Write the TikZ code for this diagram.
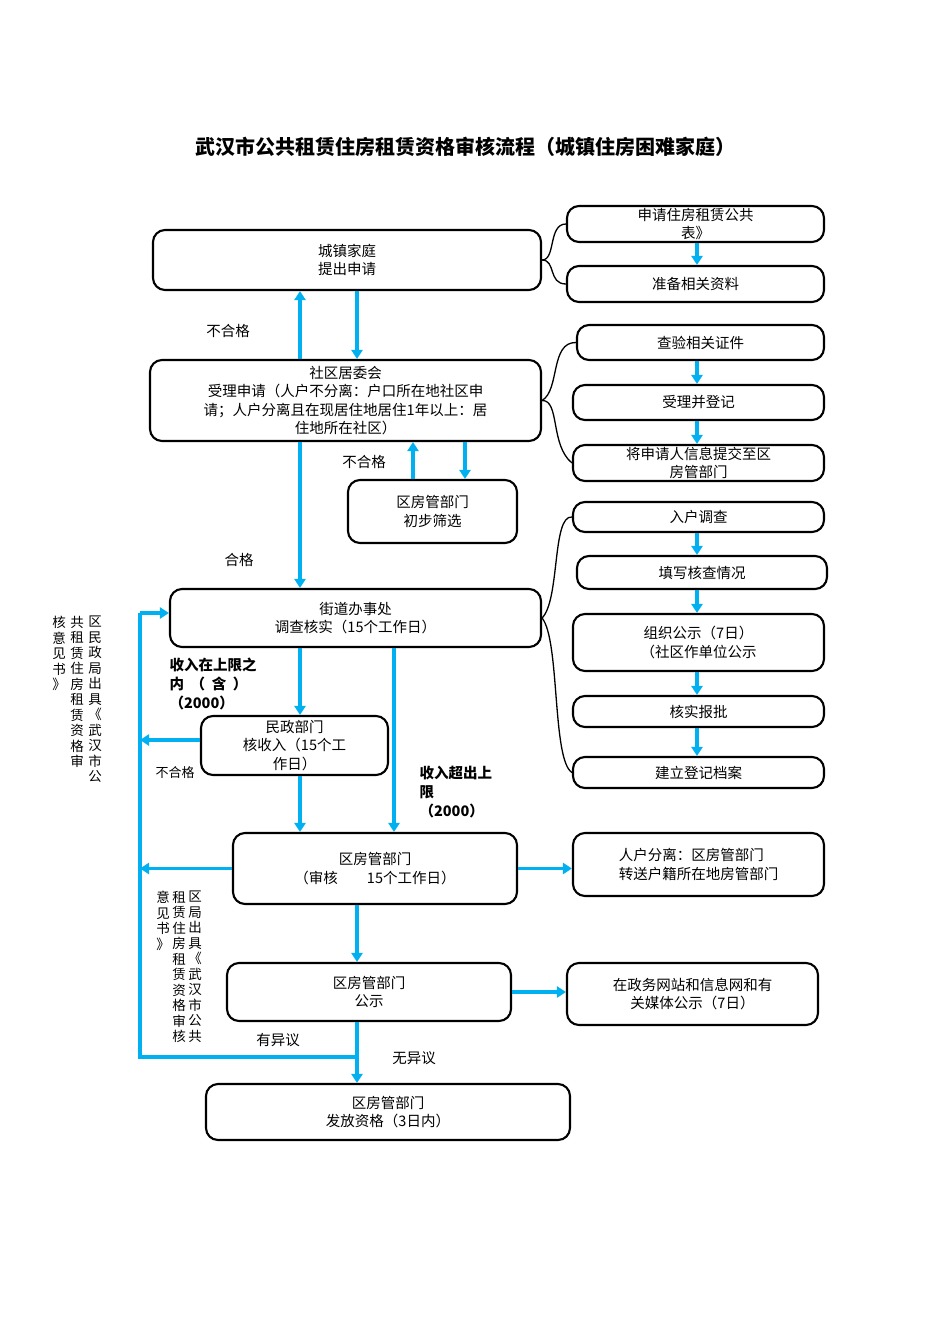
\documentclass[tikz,border=0pt]{standalone}
\usepackage{fontspec}
\setmainfont{Noto Sans CJK SC}
\usetikzlibrary{arrows.meta}
\begin{document}
\begin{tikzpicture}[x=1pt,y=-1pt,
 box/.style={draw,line width=2.1pt,rounded corners=12pt,align=center,inner sep=2pt,font=\fontsize{14.5}{18.5}\selectfont},
 arr/.style={draw={rgb,255:red,0;green,176;blue,240},line width=3.2pt,-{Triangle[length=9pt,width=11pt]}},
 ln/.style={draw={rgb,255:red,0;green,176;blue,240},line width=3.2pt},
 br/.style={draw,line width=1.3pt},
 lab/.style={font=\fontsize{14.5}{18.5}\selectfont},
 bl/.style={font=\bfseries\fontsize{14.5}{19}\selectfont,align=left},
 vt/.style={font=\fontsize{13.5}{15.5}\selectfont,align=center,anchor=north,inner sep=0pt}]
\useasboundingbox (0,0) rectangle (950,1344);
\node[font=\bfseries\fontsize{20}{24}\selectfont] (T) at (465,147) {武汉市公共租赁住房租赁资格审核流程（城镇住房困难家庭）};
\node[box,minimum width=388,minimum height=60] (A) at (347,260) {城镇家庭\\提出申请};
\node[box,minimum width=257,minimum height=36] (R1) at (695.5,224) {申请住房租赁公共\\表》};
\node[box,minimum width=257,minimum height=36] (R2) at (695.5,284) {准备相关资料};
\node[box,minimum width=391,minimum height=81] (B) at (345.5,400.5) {社区居委会\\受理申请（人户不分离：户口所在地社区申\\请；人户分离且在现居住地居住1年以上：居\\住地所在社区）};
\node[box,minimum width=247,minimum height=35] (R3) at (700.5,342.5) {查验相关证件};
\node[box,minimum width=251,minimum height=35] (R4) at (698.5,402.5) {受理并登记};
\node[box,minimum width=251,minimum height=36] (R5) at (698.5,463) {将申请人信息提交至区\\房管部门};
\node[box,minimum width=169,minimum height=63] (C) at (432.5,511.5) {区房管部门\\初步筛选};
\node[box,minimum width=251,minimum height=30] (R6) at (698.5,517) {入户调查};
\node[box,minimum width=250,minimum height=33] (R7) at (702,572.5) {填写核查情况};
\node[box,minimum width=251,minimum height=57] (R8) at (698.5,642.5) {组织公示（7日）\\（社区作单位公示};
\node[box,minimum width=251,minimum height=31] (R9) at (698.5,711.5) {核实报批};
\node[box,minimum width=251,minimum height=31] (R10) at (698.5,772.5) {建立登记档案};
\node[box,minimum width=371,minimum height=58] (D) at (355.5,618) {街道办事处\\调查核实（15个工作日）};
\node[box,minimum width=187,minimum height=59] (E) at (294.5,745.5) {民政部门\\核收入（15个工\\作日）};
\node[box,minimum width=284,minimum height=71] (F) at (375,868.5) {区房管部门\\（审核\qquad 15个工作日）};
\node[box,minimum width=251,minimum height=63,align=left] (G) at (698.5,864.5) {人户分离：区房管部门\\转送户籍所在地房管部门};
\node[box,minimum width=284,minimum height=58] (H) at (369,992) {区房管部门\\公示};
\node[box,minimum width=251,minimum height=62] (I) at (692.5,994) {在政务网站和信息网和有\\关媒体公示（7日）};
\node[box,minimum width=364,minimum height=56] (J) at (388,1112) {区房管部门\\发放资格（3日内）};
% braces
\draw[br] (A.east) .. controls (556,260) and (548,224) .. (R1.west);
\draw[br] (A.east) .. controls (556,260) and (548,284) .. (R2.west);
\draw[br] (B.east) .. controls (560,390) and (550,342) .. (R3.west);
\draw[br] (B.east) .. controls (560,400) and (550,445) .. (R5.west);
\draw[br] (D.east) .. controls (560,600) and (552,515) .. (R6.west);
\draw[br] (D.east) .. controls (560,640) and (552,760) .. (R10.west);
% right column arrows
\coordinate (x697) at (697,0);
\foreach \a/\b in {R1/R2,R3/R4,R4/R5,R6/R7,R7/R8,R8/R9,R9/R10}
 \draw[arr] (\a.south -| x697) -- (\b.north -| x697);
\coordinate (x300) at (300,0); \coordinate (x357) at (357,0);
\coordinate (x413) at (413,0); \coordinate (x465) at (465,0);
\coordinate (x394) at (394,0); \coordinate (xl) at (140,0);
\draw[arr] (A.south -| x357) -- (B.north -| x357);
\draw[arr] (B.north -| x300) -- (A.south -| x300);
\draw[arr] (B.south -| x465) -- (C.north -| x465);
\draw[arr] (C.north -| x413) -- (B.south -| x413);
\draw[arr] (B.south -| x300) -- (D.north -| x300);
\draw[arr] (D.south -| x300) -- (E.north -| x300);
\draw[arr] (E.south -| x300) -- (F.north -| x300);
\draw[arr] (D.south -| x394) -- (F.north -| x394);
\draw[arr] (F.east) -- (G.west |- F.east);
\draw[arr] (F.south -| x357) -- (H.north -| x357);
\draw[arr] (H.east) -- (I.west |- H.east);
\draw[arr] (H.south -| x357) -- (J.north -| x357);
\coordinate (bl) at (140,1057); \coordinate (bm) at (357,1057);
\draw[ln] (bm) -- (bl) -- (140,613);
\draw[arr] (140,613) -- (D.west |- 0,613);
\draw[arr] (E.west |- 0,740) -- (140,740);
\draw[arr] (F.west) -- (F.west -| xl);
% labels
\node[lab] (l1) at (228,331) {不合格};
\node[lab] (l2) at (364,462) {不合格};
\node[lab] (l3) at (239,560) {合格};
\node[lab] (l4) at (175,773) {\fontsize{13}{15}\selectfont 不合格};
\node[lab] (l5) at (278,1040) {有异议};
\node[lab] (l6) at (414,1058) {无异议};
\node[bl,anchor=north west] (l7) at (166,654) {收入在上限之\\内\ \ （\ \ 含\ \ ）\\（2000）};
\node[bl,anchor=north west] (l8) at (416,763) {收入超出上\\限\\（2000）};
% vertical texts
\node[vt] (v1) at (95,616) {区\\民\\政\\局\\出\\具\\《\\武\\汉\\市\\公};
\node[vt] (v2) at (77,616) {共\\租\\赁\\住\\房\\租\\赁\\资\\格\\审};
\node[vt] (v3) at (59,616) {核\\意\\见\\书\\》};
\node[vt] (v4) at (195,891) {区\\局\\出\\具\\《\\武\\汉\\市\\公\\共};
\node[vt] (v5) at (179,891) {租\\赁\\住\\房\\租\\赁\\资\\格\\审\\核};
\node[vt] (v6) at (163,891) {意\\见\\书\\》};
\end{tikzpicture}
\end{document}
